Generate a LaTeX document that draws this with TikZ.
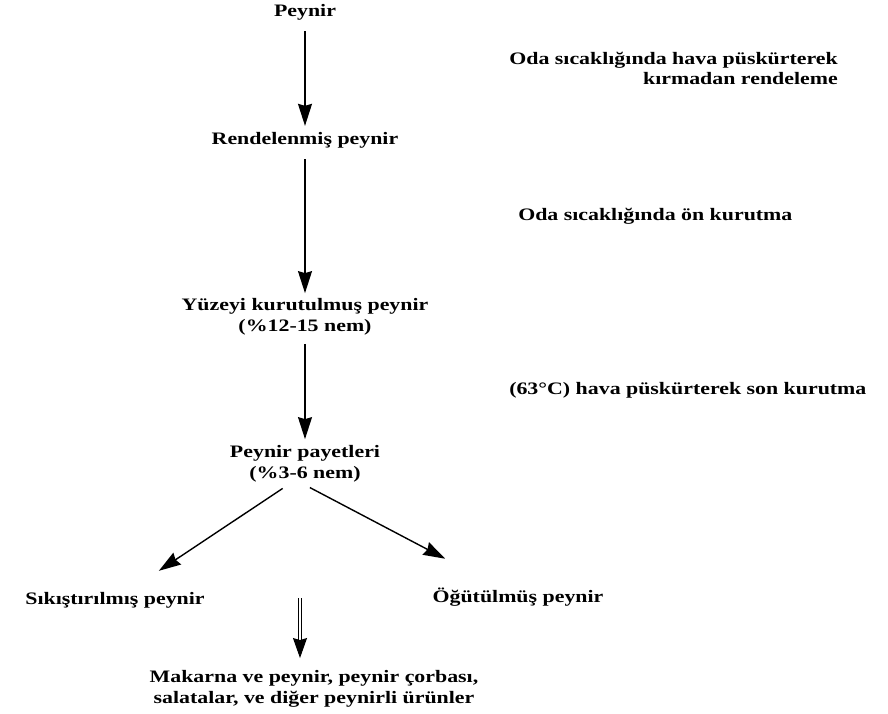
\documentclass[tikz,border=0pt]{standalone}
\usepackage{fontspec}
\setmainfont{Liberation Serif}
\usetikzlibrary{arrows.meta, positioning}

\begin{document}
\begin{tikzpicture}[x=1pt, y=-1pt,
    lbl/.style={font=\bfseries\fontsize{17.5}{21.5}\selectfont, xscale=1.25, inner sep=0pt, align=center},
    note/.style={font=\bfseries\fontsize{17.5}{20}\selectfont, xscale=1.25, inner sep=0pt},
    flow/.style={line width=1.4pt, -{Stealth[length=22pt,width=14pt,inset=2pt]}},
    dflow/.style={double, double distance=2.8pt, line width=1pt, -{Stealth[length=20pt,width=14pt,inset=2pt]}}]
    \useasboundingbox (0,0) rectangle (888,713);
    % main chain
    \node[lbl] (peynir)  at (305,12)  {Peynir};
    \node[lbl] (rendele) at (305,140) {Rendelenmiş peynir};
    \node[lbl] (yuzey)   at (305,317) {Yüzeyi kurutulmuş peynir\\(\%12-15 nem)};
    \node[lbl] (payet)   at (305,464) {Peynir payetleri\\(\%3-6 nem)};
    \node[lbl] (sikis)   at (115,600) {Sıkıştırılmış peynir};
    \node[lbl] (ogut)    at (518,597) {Öğütülmüş peynir};
    \node[lbl] (urun)    at (314,689) {Makarna ve peynir, peynir çorbası,\\salatalar, ve diğer peynirli ürünler};
    \coordinate (ayrim) at (300,598);
    % process notes
    \node[note, align=right, anchor=east] (not1) at (838,68) {Oda sıcaklığında hava püskürterek\\kırmadan rendeleme};
    \node[note, anchor=west] (not2) at (518,216) {Oda sıcaklığında ön kurutma};
    \node[note, anchor=west] (not3) at (509,390) {(63°C) hava püskürterek son kurutma};
    % arrows
    \draw[flow, shorten <=11pt, shorten >=6pt] (peynir.south) -- (rendele.north);
    \draw[flow, shorten <=11pt, shorten >=5pt] (rendele.south) -- (yuzey.north);
    \draw[flow, shorten <=8pt, shorten >=6pt] (yuzey.south) -- (payet.north);
    \draw[flow, shorten <=10pt, shorten >=38pt] ([xshift=-14pt]payet.south) -- (sikis);
    \draw[flow, shorten <=10pt, shorten >=62pt] ([xshift=-4pt]payet.south) -- (ogut);
    \draw[dflow, shorten >=12pt] (ayrim) -- (ayrim |- urun.north);
\end{tikzpicture}
\end{document}
